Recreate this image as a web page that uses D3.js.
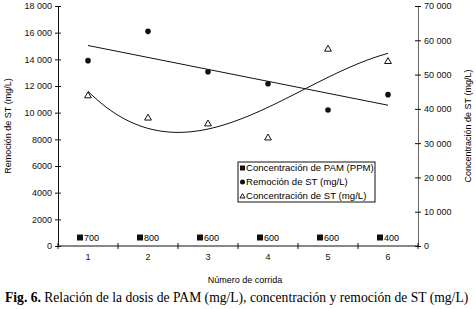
<!DOCTYPE html>
<html>
<head>
<meta charset="utf-8">
<script src="https://cdn.jsdelivr.net/npm/d3@7"></script>
<style>
    body { margin: 0; background: #fff; }
    svg { display: block; font-family: "Liberation Sans", Arial, sans-serif; }
</style>
</head>
<body>
<div id="chart"></div>
<script>
// run number on the x axis
const runs = [1, 2, 3, 4, 5, 6];
// PAM dose (PPM), shown as labels along the bottom
const pamDose = [700, 800, 600, 600, 600, 400];
// level (left axis units) where the PAM labels sit
const pamLevel = 600;
// ST removal (mg/L), left axis
const removal = [13900, 16100, 13070, 12170, 10200, 11350];
// ST concentration (mg/L), right axis
const concentration = [43800, 37300, 35600, 31500, 57400, 53800];
const leftTicks = [0, 2000, 4000, 6000, 8000, 10000, 12000, 14000, 16000, 18000];
const rightTicks = [0, 10000, 20000, 30000, 40000, 50000, 60000, 70000];
const legendLabels = ["Concentración de PAM (PPM)", "Remoción de ST (mg/L)", "Concentración de ST (mg/L)"];

render();

function render() {
    const width = 476, height = 309;
    const margin = { top: 6, right: 58, bottom: 63, left: 58 };

    const svg = d3.select('#chart').append('svg')
        .attr('width', width)
        .attr('height', height);

    const x = d3.scaleBand()
        .domain(runs)
        .range([margin.left, width - margin.right]);
    const cx = d => x(d) + x.bandwidth() / 2;

    const yL = d3.scaleLinear().domain([0, 18000]).range([height - margin.bottom, margin.top]);
    const yR = d3.scaleLinear().domain([0, 70000]).range([height - margin.bottom, margin.top]);

    // 18 000 style, but 8000 without space
    const fmt = d => d >= 10000 ? d3.format(",")(d).replace(",", " ") : String(d);

    // axes
    const left = svg.append('g')
        .attr('transform', `translate(${margin.left},0)`)
        .call(d3.axisLeft(yL).tickValues(leftTicks).tickFormat(fmt).tickSizeInner(3).tickSizeOuter(0));
    left.selectAll('.tick line').attr('x1', 3);

    const right = svg.append('g')
        .attr('transform', `translate(${width - margin.right},0)`)
        .call(d3.axisRight(yR).tickValues(rightTicks).tickFormat(fmt).tickSizeInner(3).tickSizeOuter(0));
    right.selectAll('.tick line').attr('x1', -3);

    const bottom = svg.append('g')
        .attr('transform', `translate(0,${height - margin.bottom})`)
        .call(d3.axisBottom(x).tickSize(0));
    bottom.select('.domain').remove();
    bottom.selectAll('.tick text').attr('dy', '1.25em');

    // x axis line with crossing ticks at band edges
    const edges = runs.map(r => x(r)).concat([width - margin.right]);
    bottom.append('line')
        .attr('x1', margin.left).attr('x2', width - margin.right)
        .attr('stroke', '#111');
    bottom.selectAll('.edge')
        .data(edges)
        .join('line')
        .attr('class', 'edge')
        .attr('x1', d => d).attr('x2', d => d)
        .attr('y1', -3).attr('y2', 3)
        .attr('stroke', '#111');

    svg.selectAll('.tick text').attr('font-size', 9).attr('fill', '#111');
    left.selectAll('.tick text').attr('x', -6);
    right.selectAll('.tick text').attr('x', 6);
    svg.selectAll('.domain, .tick line').attr('stroke', '#111');
    right.select('.domain').attr('stroke', '#666');

    // axis titles
    svg.append('text')
        .attr('transform', `translate(11,${(margin.top + height - margin.bottom) / 2}) rotate(-90)`)
        .attr('text-anchor', 'middle')
        .attr('font-size', 9)
        .text('Remoción de ST (mg/L)');
    svg.append('text')
        .attr('transform', `translate(471,${(margin.top + height - margin.bottom) / 2}) rotate(-90)`)
        .attr('text-anchor', 'middle')
        .attr('font-size', 9)
        .text('Concentración de ST (mg/L)');
    svg.append('text')
        .attr('x', (margin.left + width - margin.right) / 2 + 7)
        .attr('y', 283)
        .attr('text-anchor', 'middle')
        .attr('font-size', 9)
        .text('Número de corrida');

    // trend lines: linear for removal, cubic for concentration
    const linFit = polyFit(runs, removal, 1);
    const cubFit = polyFit(runs, concentration, 3);
    const xs = d3.range(runs[0], runs[runs.length - 1] + 0.001, 0.05);
    const toPx = v => margin.left + x.bandwidth() / 2 + (v - 1) * x.step();

    svg.append('path')
        .datum(xs)
        .attr('d', d3.line().x(toPx).y(v => yL(evalPoly(linFit, v))))
        .attr('fill', 'none').attr('stroke', '#111').attr('stroke-width', 1);
    svg.append('path')
        .datum(xs)
        .attr('d', d3.line().x(toPx).y(v => yR(evalPoly(cubFit, v))))
        .attr('fill', 'none').attr('stroke', '#111').attr('stroke-width', 1);

    // markers
    svg.selectAll('.rem')
        .data(runs)
        .join('circle')
        .attr('class', 'rem')
        .attr('cx', cx)
        .attr('cy', (d, i) => yL(removal[i]))
        .attr('r', 2.8)
        .attr('fill', '#111');

    const tri = d3.symbol().type(d3.symbolTriangle).size(20);
    svg.selectAll('.conc')
        .data(runs)
        .join('path')
        .attr('class', 'conc')
        .attr('d', tri)
        .attr('transform', (d, i) => `translate(${cx(d)},${yR(concentration[i])})`)
        .attr('fill', '#fff')
        .attr('stroke', '#111')
        .attr('stroke-width', 1);

    // PAM labels with square key
    const pam = svg.selectAll('.pam')
        .data(runs)
        .join('g')
        .attr('class', 'pam')
        .attr('transform', d => `translate(${cx(d)},${yL(pamLevel)})`);
    pam.append('rect')
        .attr('x', -11).attr('y', -3.5)
        .attr('width', 6).attr('height', 6)
        .attr('fill', '#111');
    pam.append('text')
        .attr('x', -4)
        .attr('y', 3)
        .attr('font-size', 9)
        .text((d, i) => pamDose[i]);

    // legend
    const lg = svg.append('g').attr('transform', 'translate(238,162)');
    lg.append('rect')
        .attr('width', 137).attr('height', 40)
        .attr('fill', '#fff').attr('stroke', '#111').attr('stroke-width', 1);
    const items = lg.selectAll('.item')
        .data(legendLabels)
        .join('g')
        .attr('class', 'item')
        .attr('transform', (d, i) => `translate(0,${6 + i * 14})`);
    items.append('text')
        .attr('x', 8)
        .attr('y', 3.3)
        .attr('font-size', 9.6)
        .text(d => d);
    items.filter((d, i) => i === 0).append('rect')
        .attr('x', 2).attr('y', -2.5).attr('width', 5).attr('height', 5).attr('fill', '#111');
    items.filter((d, i) => i === 1).append('circle')
        .attr('cx', 4.5).attr('r', 2.5).attr('fill', '#111');
    items.filter((d, i) => i === 2).append('path')
        .attr('d', d3.symbol().type(d3.symbolTriangle).size(11))
        .attr('transform', 'translate(4.5,0.5)')
        .attr('fill', '#fff').attr('stroke', '#111');

    // caption
    const cap = svg.append('text')
        .attr('x', 5)
        .attr('y', 302)
        .attr('font-family', '"Liberation Serif", "Times New Roman", serif')
        .attr('font-size', 13.6)
        .attr('fill', '#000');
    cap.append('tspan').attr('font-weight', 'bold').text('Fig. 6.');
    cap.append('tspan').text(' Relación de la dosis de PAM (mg/L), concentración y remoción de ST (mg/L)');
}

// least squares polynomial fit, returns coefficients c0..cn
function polyFit(xv, yv, deg) {
    const n = deg + 1;
    const A = d3.range(n).map(i => d3.range(n).map(j => d3.sum(xv, v => Math.pow(v, i + j))));
    const b = d3.range(n).map(i => d3.sum(xv, (v, k) => Math.pow(v, i) * yv[k]));
    for (let c = 0; c < n; c++) {
        let p = c;
        for (let r = c + 1; r < n; r++) if (Math.abs(A[r][c]) > Math.abs(A[p][c])) p = r;
        [A[c], A[p]] = [A[p], A[c]];
        [b[c], b[p]] = [b[p], b[c]];
        for (let r = c + 1; r < n; r++) {
            const f = A[r][c] / A[c][c];
            for (let k = c; k < n; k++) A[r][k] -= f * A[c][k];
            b[r] -= f * b[c];
        }
    }
    const out = new Array(n).fill(0);
    for (let r = n - 1; r >= 0; r--) {
        let s = b[r];
        for (let k = r + 1; k < n; k++) s -= A[r][k] * out[k];
        out[r] = s / A[r][r];
    }
    return out;
}

function evalPoly(c, v) {
    return c.reduce((s, a, i) => s + a * Math.pow(v, i), 0);
}
</script>
</body>
</html>
